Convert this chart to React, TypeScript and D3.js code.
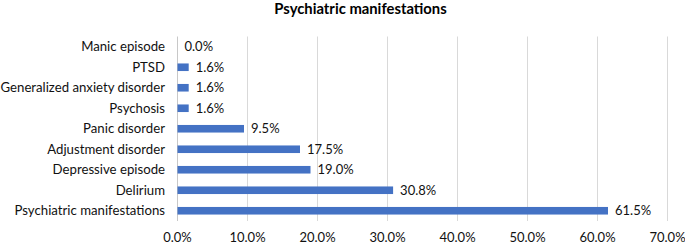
import React from "react";
import * as d3 from "d3";

const categories = [
  "Manic episode",
  "PTSD",
  "Generalized anxiety disorder",
  "Psychosis",
  "Panic disorder",
  "Adjustment disorder",
  "Depressive episode",
  "Delirium",
  "Psychiatric manifestations",
];
const values = [0.0, 1.6, 1.6, 1.6, 9.5, 17.5, 19.0, 30.8, 61.5];
const xTicks = [0, 10, 20, 30, 40, 50, 60, 70];
const title = "Psychiatric manifestations";

const W = 685;
const H = 244;
const FONT = "Lato, 'Open Sans', sans-serif";

export default function App() {
  const x = d3.scaleLinear().domain([0, 70]).range([177.5, 667.5]);
  const y = d3
    .scaleBand<string>()
    .domain(categories)
    .range([36.5, 221])
    .paddingInner(0.63)
    .paddingOuter(0.315);
  return (
    <div style={{ position: "absolute", left: 0, top: 0 }}>
      <svg width={W} height={H} style={{ display: "block", background: "#fff" }}>
        <text
          x={360.5}
          y={14}
          textAnchor="middle"
          fontFamily={FONT}
          fontWeight={700}
          fontSize={14.8}
          fill="#000"
        >
          {title}
        </text>
        {xTicks.map((t) => (
          <g key={t}>
            <line
              x1={x(t)}
              x2={x(t)}
              y1={36.5}
              y2={221}
              stroke={t === 0 ? "#c8c8c8" : "#d9d9d9"}
              strokeWidth={1}
            />
            <text
              x={x(t)}
              y={242}
              textAnchor="middle"
              fontFamily={FONT}
              fontSize={13}
              fill="#111"
            >
              {t.toFixed(1) + "%"}
            </text>
          </g>
        ))}
        {categories.map((c, i) => {
          const v = values[i];
          const yc = (y(c) as number) + y.bandwidth() / 2;
          return (
            <g key={c}>
              <rect
                x={x(0)}
                y={y(c) as number}
                width={x(v) - x(0)}
                height={y.bandwidth()}
                fill="#4472C4"
              />
              <text
                x={165}
                y={yc}
                dy="0.35em"
                textAnchor="end"
                fontFamily={FONT}
                fontSize={13.2}
                fill="#111"
              >
                {c}
              </text>
              <text
                x={x(v) + 7}
                y={yc}
                dy="0.35em"
                textAnchor="start"
                fontFamily={FONT}
                fontSize={13}
                fill="#111"
              >
                {v.toFixed(1) + "%"}
              </text>
            </g>
          );
        })}
      </svg>
    </div>
  );
}
